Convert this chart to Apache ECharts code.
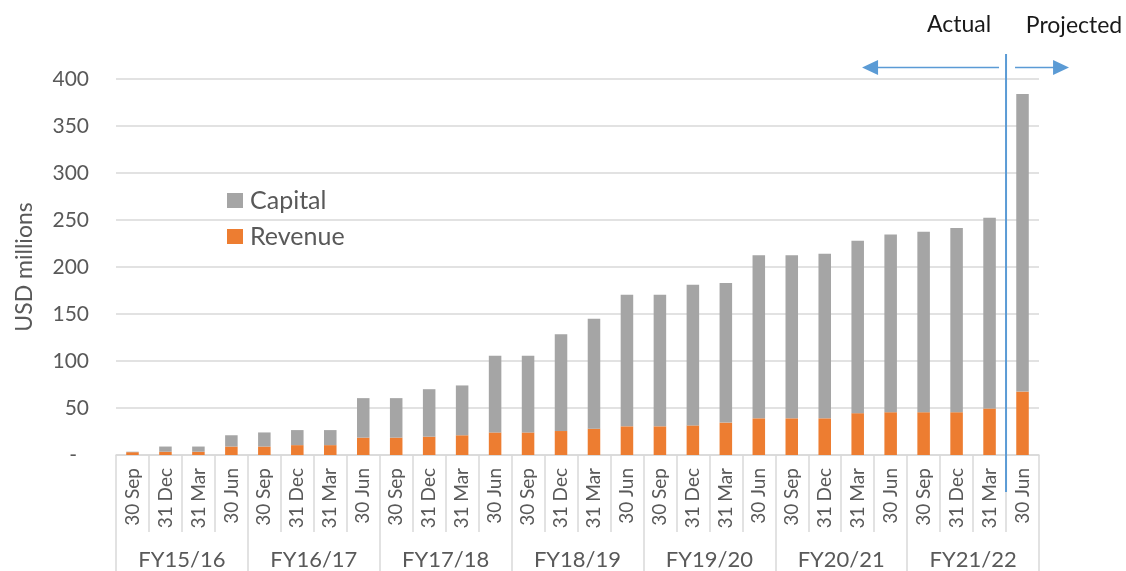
<!DOCTYPE html>
<html>
<head>
<meta charset="utf-8">
<script src="https://cdn.jsdelivr.net/npm/echarts@6/dist/echarts.min.js"></script>
<style>html,body{margin:0;padding:0;background:#fff;}#c{width:1126px;height:571px;}</style>
</head>
<body>
<div id="c"></div>
<script>
var quarters = ['30 Sep','31 Dec','31 Mar','30 Jun','30 Sep','31 Dec','31 Mar','30 Jun','30 Sep','31 Dec','31 Mar','30 Jun','30 Sep','31 Dec','31 Mar','30 Jun','30 Sep','31 Dec','31 Mar','30 Jun','30 Sep','31 Dec','31 Mar','30 Jun','30 Sep','31 Dec','31 Mar','30 Jun'];
var fiscalYears = ['FY15/16','FY16/17','FY17/18','FY18/19','FY19/20','FY20/21','FY21/22'];
var revenue = [3, 3.5, 3.5, 9, 9, 10.5, 10.5, 18.5, 18.5, 19.5, 21, 24, 24, 25.5, 28, 30.5, 30.5, 31.5, 34.5, 39, 39, 39, 44.5, 45.5, 45.5, 45.5, 49.5, 67.5];
var capital = [0.5, 5.5, 5.5, 12, 15, 16, 16, 42, 42, 50.5, 53, 81.5, 81.5, 103, 117, 140, 140, 149.5, 148.5, 173.5, 173.5, 175, 183.5, 189, 192, 196, 203, 316.5];
var yTicks = {min: 0, max: 400, interval: 50};
var annotationLabels = ['Actual', 'Projected'];

var FONT = 'Lato, "Open Sans", sans-serif';
var TXT = '#595959';
var GRID = '#d9d9d9';
var catKeys = quarters.map(function (q, i) { return i + '|' + q; });

var chart = echarts.init(document.getElementById('c'), null, {renderer: 'canvas'});
chart.setOption({
  animation: false,
  textStyle: {fontFamily: FONT},
  grid: {left: 116, right: 87, top: 79, bottom: 115.5, containLabel: false},
  legend: {
    data: ['Capital', 'Revenue'],
    orient: 'vertical',
    left: 222, top: 183,
    itemWidth: 16, itemHeight: 15, itemGap: 11,
    icon: 'rect',
    textStyle: {fontFamily: FONT, fontSize: 25, color: TXT, padding: [0, 0, 0, 2]}
  },
  xAxis: [{
    type: 'category',
    data: catKeys,
    axisLine: {show: true, lineStyle: {color: GRID, width: 1.5}},
    axisTick: {show: true, interval: 0, length: 77, lineStyle: {color: GRID, width: 1.5}},
    axisLabel: {
      interval: 0, rotate: 90, margin: 13, fontSize: 19, color: TXT, fontFamily: FONT,
      formatter: function (v) { return v.split('|')[1]; }
    }
  }, {
    type: 'category',
    data: fiscalYears,
    position: 'bottom',
    axisLine: {show: false},
    axisTick: {show: true, interval: 0, length: 116, lineStyle: {color: GRID, width: 1.5}},
    axisLabel: {interval: 0, margin: 94, fontSize: 22, color: TXT, fontFamily: FONT},
    splitLine: {show: false}
  }],
  yAxis: {
    type: 'value',
    min: yTicks.min, max: yTicks.max, interval: yTicks.interval,
    name: 'USD millions',
    nameLocation: 'middle',
    nameGap: 80,
    nameTextStyle: {fontFamily: FONT, fontSize: 23, color: TXT},
    axisLine: {show: false},
    axisTick: {show: false},
    splitLine: {lineStyle: {color: GRID, width: 1.5}},
    axisLabel: {
      margin: 27, fontSize: 21, color: TXT, fontFamily: FONT,
      formatter: function (v) { return v === 0 ? '{d|-}' : String(v); },
      rich: {d: {fontSize: 21, color: TXT, fontFamily: FONT, padding: [0, 12, 0, 0]}}
    }
  },
  series: [{
    name: 'Revenue',
    type: 'bar',
    stack: 'total',
    data: revenue,
    barWidth: '38%',
    itemStyle: {color: '#ED7D31'}
  }, {
    name: 'Capital',
    type: 'bar',
    stack: 'total',
    data: capital,
    barWidth: '38%',
    itemStyle: {color: '#A5A5A5'}
  }]
});

var xa = chart.convertToPixel({xAxisIndex: 0}, catKeys[26]);
var xb = chart.convertToPixel({xAxisIndex: 0}, catKeys[27]);
var L = (xa + xb) / 2;
var BLUE = '#5B9BD5';
var ay = 67.5;
chart.setOption({
  graphic: [
    {type: 'line', shape: {x1: L, y1: 54, x2: L, y2: 492}, style: {stroke: BLUE, lineWidth: 2}, z: 100},
    {type: 'line', shape: {x1: L - 7, y1: ay, x2: L - 130, y2: ay}, style: {stroke: BLUE, lineWidth: 1.5}, z: 100},
    {type: 'polygon', shape: {points: [[L - 144, ay], [L - 128, ay - 7.5], [L - 128, ay + 7.5]]}, style: {fill: BLUE}, z: 100},
    {type: 'line', shape: {x1: L + 9, y1: ay, x2: L + 50, y2: ay}, style: {stroke: BLUE, lineWidth: 1.5}, z: 100},
    {type: 'polygon', shape: {points: [[L + 63, ay], [L + 47, ay - 7.5], [L + 47, ay + 7.5]]}, style: {fill: BLUE}, z: 100},
    {type: 'text', x: L - 47, y: 25, style: {text: annotationLabels[0], font: '23px ' + FONT, fill: '#1a1a1a', align: 'center', verticalAlign: 'middle'}, z: 100},
    {type: 'text', x: L + 68, y: 26, style: {text: annotationLabels[1], font: '23px ' + FONT, fill: '#1a1a1a', align: 'center', verticalAlign: 'middle'}, z: 100}
  ]
});
</script>
</body>
</html>
